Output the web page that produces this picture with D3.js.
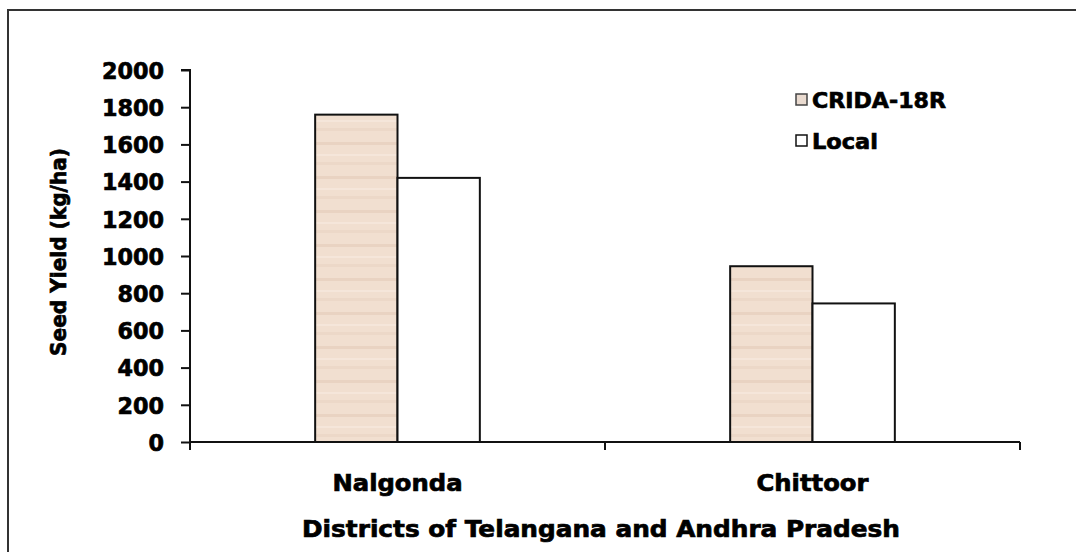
<!DOCTYPE html>
<html>
<head>
<meta charset="utf-8">
<script src="https://cdn.jsdelivr.net/npm/d3@7"></script>
<style>
  html, body { margin: 0; padding: 0; background: #fff; overflow: hidden; }
  svg { display: block; }
  text { font-family: "DejaVu Sans", "Liberation Sans", sans-serif; font-weight: bold; fill: #000; stroke: #000; stroke-width: 0.7px; }
</style>
</head>
<body>
<svg id="chart" width="1076" height="552"></svg>
<script>
// Seed yield of CRIDA-18R vs local variety in two districts
const districts = ["Nalgonda", "Chittoor"];
const varieties = ["CRIDA-18R", "Local"];
const crida18R = [1760, 945];
const local = [1420, 745];
const yTicks = [0, 200, 400, 600, 800, 1000, 1200, 1400, 1600, 1800, 2000];

const rows = districts.map((d, i) => ({ district: d, values: [crida18R[i], local[i]] }));

const svg = d3.select("#chart");
const W = 1076, H = 552;
const margin = { left: 190, right: 56, top: 70, bottom: 110 };
const plotW = W - margin.left - margin.right;
const plotH = H - margin.top - margin.bottom;

// Outer frame (only its left and top edges fall inside the view)
svg.append("path")
  .attr("d", "M8,560V10H1080")
  .attr("fill", "none")
  .attr("stroke", "#333").attr("stroke-width", 2);

// Light peach fill with faint horizontal banding
const defs = svg.append("defs");
const pat = defs.append("pattern")
  .attr("id", "peach")
  .attr("patternUnits", "userSpaceOnUse")
  .attr("width", 8).attr("height", 34);
pat.append("rect").attr("width", 8).attr("height", 34).attr("fill", "#f1dfd0");
pat.append("rect").attr("y", 4).attr("width", 8).attr("height", 3).attr("fill", "#e9d3c2");
pat.append("rect").attr("y", 16).attr("width", 8).attr("height", 2).attr("fill", "#f5e6da");
pat.append("rect").attr("y", 24).attr("width", 8).attr("height", 3).attr("fill", "#ecd8c8");

const g = svg.append("g").attr("transform", `translate(${margin.left},${margin.top})`);

const x0 = d3.scaleBand().domain(districts).range([0, plotW]).paddingInner(0).paddingOuter(0);
const x1 = d3.scaleBand().domain(varieties).range([0, x0.bandwidth()]).paddingInner(0).paddingOuter(1.52);
const y = d3.scaleLinear().domain([0, 2000]).range([plotH, 0]);

const fills = { "CRIDA-18R": "url(#peach)", "Local": "#fff" };

// Bars
const groups = g.selectAll(".grp").data(rows).join("g")
  .attr("class", "grp")
  .attr("transform", d => `translate(${x0(d.district)},0)`);

groups.selectAll("rect")
  .data(d => d.values.map((v, k) => ({ key: varieties[k], value: v })))
  .join("rect")
  .attr("x", d => x1(d.key))
  .attr("y", d => y(d.value))
  .attr("width", x1.bandwidth())
  .attr("height", d => plotH - y(d.value))
  .attr("fill", d => fills[d.key])
  .attr("stroke", "#111")
  .attr("stroke-width", 2);

// Y axis
const yAxis = g.append("g")
  .call(d3.axisLeft(y).tickValues(yTicks).tickSize(9).tickPadding(17).tickFormat(d3.format("d")));
yAxis.select(".domain").attr("stroke", "#111").attr("stroke-width", 2).attr("d", `M-9,${y(2000)}H0V${plotH}`);
yAxis.selectAll(".tick line").attr("stroke", "#111").attr("stroke-width", 2);
yAxis.selectAll(".tick text")
  .style("font-size", "23px")
  .style("font-family", "'DejaVu Sans', sans-serif")
  .style("font-weight", "bold")
  .attr("dy", "0.36em")
  .attr("textLength", d => String(d).length * 15.5)
  .attr("lengthAdjust", "spacingAndGlyphs")
  .attr("fill", "#000");

// X axis with boundary ticks between categories
const xAxisG = g.append("g").attr("transform", `translate(0,${plotH})`);
xAxisG.append("line")
  .attr("x1", 0).attr("x2", plotW)
  .attr("stroke", "#111").attr("stroke-width", 2);
const bounds = districts.map(d => x0(d)).concat([plotW]);
xAxisG.selectAll(".bt").data(bounds).join("line")
  .attr("class", "bt")
  .attr("x1", d => d).attr("x2", d => d)
  .attr("y1", 0).attr("y2", 8)
  .attr("stroke", "#111").attr("stroke-width", 2);
const catWidths = [130, 112];
xAxisG.selectAll(".cat").data(districts).join("text")
  .attr("class", "cat")
  .attr("x", d => x0(d) + x0.bandwidth() / 2)
  .attr("y", 49)
  .attr("text-anchor", "middle")
  .attr("textLength", (d, i) => catWidths[i])
  .attr("lengthAdjust", "spacingAndGlyphs")
  .style("font-size", "23px")
  .text(d => d);

// Axis titles
svg.append("text")
  .attr("x", 601).attr("y", 537)
  .attr("text-anchor", "middle")
  .attr("textLength", 598).attr("lengthAdjust", "spacingAndGlyphs")
  .style("font-size", "23px")
  .text("Districts of Telangana and Andhra Pradesh");

svg.append("text")
  .attr("transform", `translate(66,${(y(0) + y(2000)) / 2 + margin.top - 4}) rotate(-90)`)
  .attr("text-anchor", "middle")
  .attr("textLength", 208).attr("lengthAdjust", "spacingAndGlyphs")
  .style("font-size", "21px")
  .text("Seed Yield (kg/ha)");

// Legend
const legendWidths = [134, 66];
const legend = svg.append("g").attr("transform", "translate(796,94)");
const li = legend.selectAll("g").data(varieties).join("g")
  .attr("transform", (d, i) => `translate(0,${i * 41})`);
li.append("rect")
  .attr("x", 0).attr("y", 0).attr("width", 11).attr("height", 11)
  .attr("fill", d => d === "Local" ? "#fff" : "#eadbd0")
  .attr("stroke", d => d === "Local" ? "#111" : "#444")
  .attr("stroke-width", 1.5);
li.append("text")
  .attr("x", 16).attr("y", 14)
  .attr("textLength", (d, i) => legendWidths[i])
  .attr("lengthAdjust", "spacingAndGlyphs")
  .style("font-size", "22px")
  .text(d => d);
</script>
</body>
</html>
